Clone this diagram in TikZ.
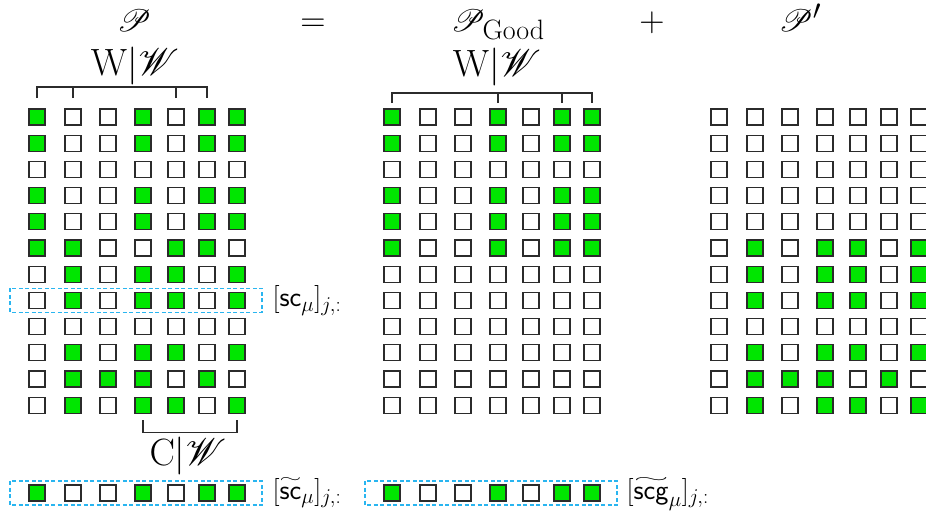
\RequirePackage{fix-cm}
\documentclass[tikz,border=0pt]{standalone}
\usepackage{amsmath}
\usepackage{mathrsfs}
\usetikzlibrary{calc}
% let the script letters scale freely
\DeclareFontFamily{U}{rsfs}{\skewchar\font127 }
\DeclareFontShape{U}{rsfs}{m}{n}{<-6> rsfs5 <6-8> rsfs7 <8-> rsfs10}{}
\DeclareMathSizes{38}{38}{30}{24}
\DeclareMathSizes{35}{35}{28}{22}
\DeclareMathSizes{31}{31}{28}{20}
\DeclareMathSizes{28}{28}{21}{15}
\definecolor{pgreen}{HTML}{00E600}
\definecolor{pselect}{HTML}{29B5F0}
\definecolor{pline}{HTML}{2B2B2B}
% a tilde stretched over the whole symbol
\newlength\tilw
\newcommand{\wavy}[1]{{\settowidth{\tilw}{$#1$}%
  \overset{\resizebox*{\tilw}{5pt}{$\sim$}}{#1}}}

\begin{document}
\begin{tikzpicture}[x=1pt, y=-1pt, line width=1.3pt,
    cell/.style={draw=pline, minimum size=16pt, inner sep=0pt},
    cell0/.style={cell, fill=white},
    cell1/.style={cell, fill=pgreen},
    brace/.style={draw=pline, line width=1.2pt},
    selbox/.style={draw=pselect, dash pattern=on 4pt off 2.5pt, line width=1.6pt},
    big/.style={font=\fontsize{38}{42}\selectfont, inner sep=0pt, anchor=base},
    head/.style={font=\fontsize{31}{34}\selectfont, inner sep=0pt, anchor=base},
    op/.style={font=\fontsize{35}{38}\selectfont, inner sep=0pt, anchor=base},
    tag/.style={font=\fontsize{28}{30}\selectfont, inner sep=0pt, anchor=base west}]
  \path[use as bounding box, clip] (0,0) rectangle (926,515);

  % column centres, a little tighter towards the right
  \def\colx{{37,73,108,143,176,207,237}}

  % P: the whole pattern
  \foreach \bits [count=\r] in {{1,0,0,1,0,1,1},{1,0,0,1,0,1,1},{0,0,0,0,0,0,0},
      {1,0,0,1,0,1,1},{1,0,0,1,0,1,1},{1,1,0,0,1,1,0},{0,1,0,1,1,0,1},
      {0,1,0,1,1,0,1},{0,0,0,0,0,0,0},{0,1,0,1,1,0,1},{0,1,1,1,0,1,0},
      {0,1,0,1,1,0,1}}
    \foreach \v [count=\c] in \bits {
      \pgfmathsetmacro\cx{\colx[\c-1]}
      \node[cell\v] (P-\r-\c) at (\cx, 117+26.2*\r-26.2) {};
    }

  % P_Good: only the good rows survive
  \foreach \bits [count=\r] in {{1,0,0,1,0,1,1},{1,0,0,1,0,1,1},{0,0,0,0,0,0,0},
      {1,0,0,1,0,1,1},{1,0,0,1,0,1,1},{1,0,0,1,0,1,1},{0,0,0,0,0,0,0},
      {0,0,0,0,0,0,0},{0,0,0,0,0,0,0},{0,0,0,0,0,0,0},{0,0,0,0,0,0,0},
      {0,0,0,0,0,0,0}}
    \foreach \v [count=\c] in \bits {
      \pgfmathsetmacro\cx{\colx[\c-1]}
      \node[cell\v] (G-\r-\c) at (\cx+355, 117+26.2*\r-26.2) {};
    }

  % P': what is left over
  \foreach \bits [count=\r] in {{0,0,0,0,0,0,0},{0,0,0,0,0,0,0},{0,0,0,0,0,0,0},
      {0,0,0,0,0,0,0},{0,0,0,0,0,0,0},{0,1,0,1,1,0,1},{0,1,0,1,1,0,1},
      {0,1,0,1,1,0,1},{0,0,0,0,0,0,0},{0,1,0,1,1,0,1},{0,1,1,1,0,1,0},
      {0,1,0,1,1,0,1}}
    \foreach \v [count=\c] in \bits {
      \pgfmathsetmacro\cx{\colx[\c-1]}
      \node[cell\v] (Q-\r-\c) at (\cx+682, 117+26.2*\r-26.2) {};
    }

  % the two single rows at the bottom
  \foreach \v [count=\c] in {1,0,0,1,0,1,1} {
    \pgfmathsetmacro\cx{\colx[\c-1]}
    \node[cell\v] (S-\c) at (\cx, 493) {};
    \node[cell\v] (T-\c) at (\cx+355, 493) {};
  }

  % headings
  \node[head] (Ptitle) at (134,31) {$\mathscr{P}$};
  \node[op]   (eq)     at (313,31) {$=$};
  \node[head] (Pgood)  at (498,31) {$\mathscr{P}_{\mathrm{Good}}$};
  \node[op]   (plus)   at (652,31) {$+$};
  \node[head] (Pprime) at (800,31) {$\mathscr{P}'$};

  % window columns over P
  \node[big] (Wleft) at (135,75) {$\mathrm{W}|\mathscr{W}$};
  \draw[brace] ($(P-1-1)+(0,-19)$) -- ($(P-1-1)+(0,-30)$)
     -- ($(P-1-6)+(0,-30)$) -- ($(P-1-6)+(0,-19)$);
  \draw[brace] ($(P-1-2)+(0,-19)$) -- ($(P-1-2)+(0,-30)$);
  \draw[brace] ($(P-1-5)+(0,-19)$) -- ($(P-1-5)+(0,-30)$);

  % window columns over P_Good
  \node[big] (Wmid) at (497,76) {$\mathrm{W}|\mathscr{W}$};
  \draw[brace] ($(G-1-1)+(0,-14)$) -- ($(G-1-1)+(0,-24)$)
     -- ($(G-1-7)+(0,-24)$) -- ($(G-1-7)+(0,-14)$);
  \draw[brace] ($(G-1-4)+(0,-14)$) -- ($(G-1-4)+(0,-24)$);
  \draw[brace] ($(G-1-6)+(0,-14)$) -- ($(G-1-6)+(0,-24)$);

  % cover columns under P
  \draw[brace] ($(P-12-4)+(0,15)$) -- ($(P-12-4)+(0,27)$)
     -- ($(P-12-7)+(0,27)$) -- ($(P-12-7)+(0,15)$);
  \node[big] (Cw) at (188,465) {$\mathrm{C}|\mathscr{W}$};

  % picked rows and their readouts
  \draw[selbox] ($(P-8-1)+(-27,-12)$) rectangle ($(P-8-7)+(25,12)$);
  \node[tag] (scrow) at ($(P-8-7)+(35,6.5)$) {$[\mathsf{sc}_{\mu}]_{j,:}$};

  \draw[selbox] ($(S-1)+(-27,-12)$) rectangle ($(S-7)+(25,12)$);
  \node[tag] (sctil) at ($(S-7)+(35,6.5)$) {$[\wavy{\mathsf{sc}}_{\mu}]_{j,:}$};

  \draw[selbox] ($(T-1)+(-27,-12)$) rectangle ($(T-7)+(25,12)$);
  \node[tag] (scgtil) at ($(T-7)+(34,6.5)$) {$[\wavy{\mathsf{scg}}_{\mu}]_{j,:}$};
\end{tikzpicture}
\end{document}
